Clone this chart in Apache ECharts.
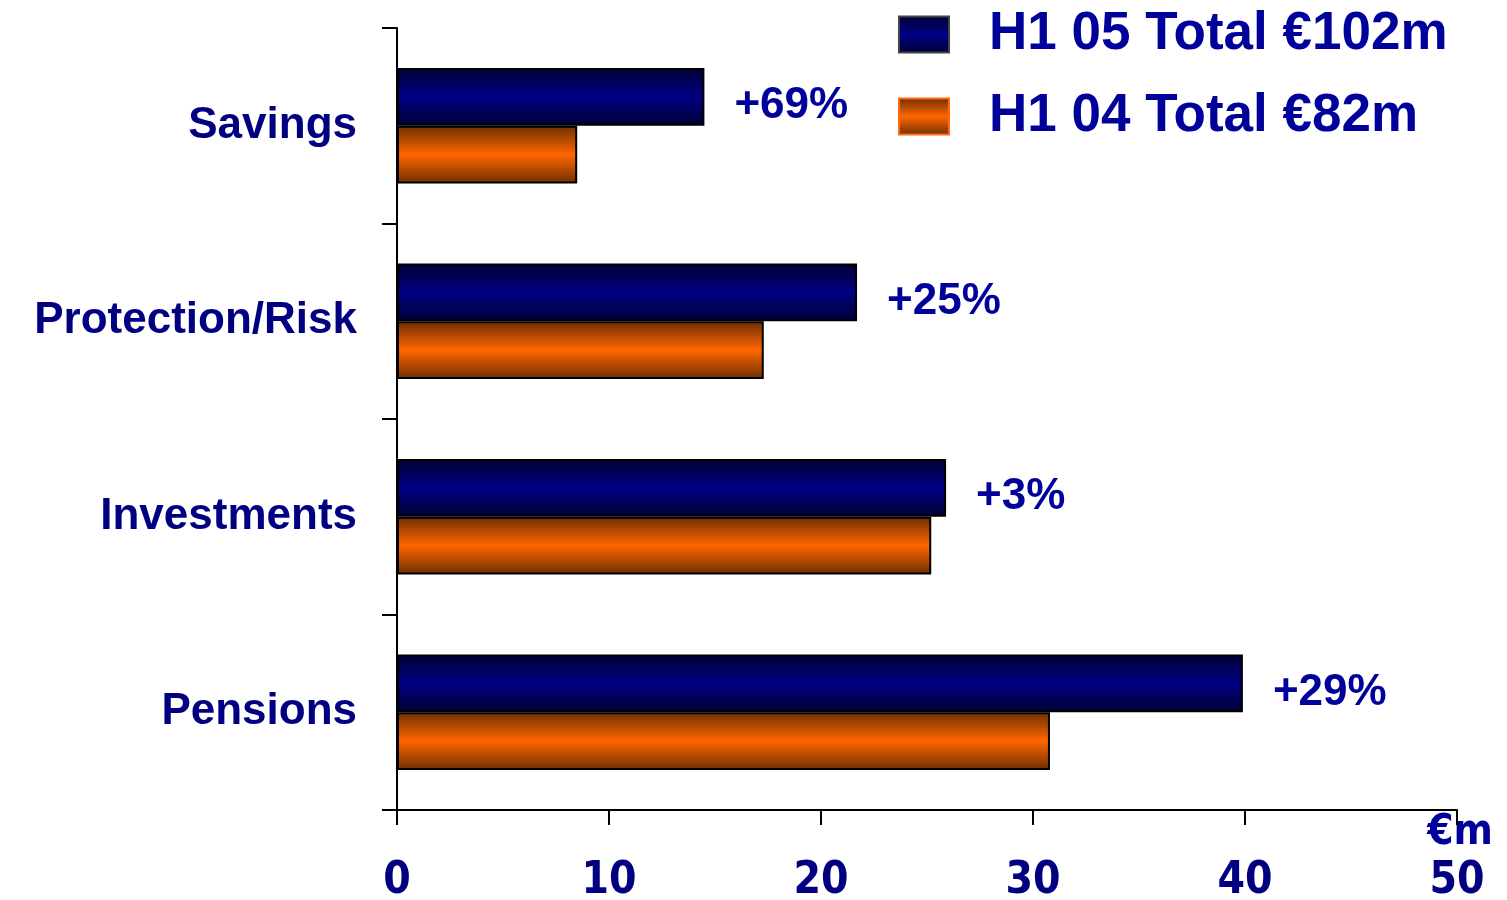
<!DOCTYPE html>
<html>
<head>
<meta charset="utf-8">
<style>
    html, body { margin: 0; padding: 0; background: #fff; }
    #chart { width: 1507px; height: 900px; }
</style>
</head>
<body>
<div id="chart"></div>
<script src="https://cdn.jsdelivr.net/npm/echarts@6/dist/echarts.min.js"></script>
<script>
    var categories = ['Savings', 'Protection/Risk', 'Investments', 'Pensions'];
    var seriesNames = ['H1 05 Total €102m', 'H1 04 Total €82m'];
    var h105 = [14.5, 21.7, 25.9, 39.9];
    var h104 = [8.5, 17.3, 25.2, 30.8];
    var growth = ['+69%', '+25%', '+3%', '+29%'];
    var xTicks = [0, 10, 20, 30, 40, 50];

    var navy = '#000080';
    var textBlue = '#00009a';

    function barGradient(edge, mid) {
        return new echarts.graphic.LinearGradient(0, 0, 0, 1, [
            {offset: 0, color: edge},
            {offset: 0.5, color: mid},
            {offset: 1, color: edge}
        ]);
    }

    var myChart = echarts.init(document.getElementById('chart'));
    var option = {
        animation: false,
        grid: {left: 397, right: 50, top: 28, bottom: 90, containLabel: false, outerBoundsMode: 'none'},
        legend: {
            orient: 'vertical',
            left: 893,
            top: 3,
            icon: 'rect',
            itemWidth: 50,
            itemHeight: 36,
            itemGap: 29,
            textStyle: {
                fontFamily: 'Liberation Sans, Arial, sans-serif',
                fontWeight: 'bold',
                fontSize: 53,
                color: textBlue,
                padding: [8, 0, 0, 35]
            },
            data: [
                {name: seriesNames[0], itemStyle: {borderColor: '#444', borderWidth: 2}},
                {name: seriesNames[1], itemStyle: {borderColor: '#ff6a10', borderWidth: 2}}
            ]
        },
        xAxis: {
            type: 'value',
            min: xTicks[0],
            max: xTicks[xTicks.length - 1],
            interval: 10,
            splitLine: {show: false},
            axisLine: {show: true, lineStyle: {color: '#000', width: 2}},
            axisTick: {show: true, length: 15, lineStyle: {color: '#000', width: 2}},
            axisLabel: {
                margin: 50,
                fontFamily: 'DejaVu Sans Condensed, Liberation Sans, Arial, sans-serif',
                fontWeight: 'bold',
                fontSize: 44,
                color: navy
            },
            name: '€m',
            nameLocation: 'end',
            nameGap: 3,
            nameTextStyle: {
                fontFamily: 'DejaVu Sans Condensed, Liberation Sans, Arial, sans-serif',
                fontWeight: 'bold',
                fontSize: 42,
                color: textBlue,
                align: 'center',
                verticalAlign: 'top',
                padding: [2, 0, 0, 0]
            }
        },
        yAxis: {
            type: 'category',
            inverse: true,
            data: categories,
            axisLine: {show: true, lineStyle: {color: '#000', width: 2}},
            axisTick: {show: true, length: 15, lineStyle: {color: '#000', width: 2}},
            axisLabel: {
                margin: 40,
                fontFamily: 'Liberation Sans, Arial, sans-serif',
                fontWeight: 'bold',
                fontSize: 44,
                color: navy
            }
        },
        series: [
            {
                name: seriesNames[0],
                type: 'bar',
                data: h105,
                barGap: '0%',
                barCategoryGap: '41%',
                itemStyle: {
                    color: barGradient('#000033', '#000085'),
                    borderColor: '#000',
                    borderWidth: 2
                },
                label: {
                    show: true,
                    position: 'right',
                    distance: 30,
                    offset: [0, 9],
                    formatter: function (p) {
                        return growth[p.dataIndex];
                    },
                    fontFamily: 'Liberation Sans, Arial, sans-serif',
                    fontWeight: 'bold',
                    fontSize: 44,
                    color: textBlue
                }
            },
            {
                name: seriesNames[1],
                type: 'bar',
                data: h104,
                barGap: '0%',
                barCategoryGap: '41%',
                itemStyle: {
                    color: barGradient('#6e2e00', '#ff6600'),
                    borderColor: '#000',
                    borderWidth: 2
                }
            }
        ]
    };
    myChart.setOption(option);
</script>
</body>
</html>
